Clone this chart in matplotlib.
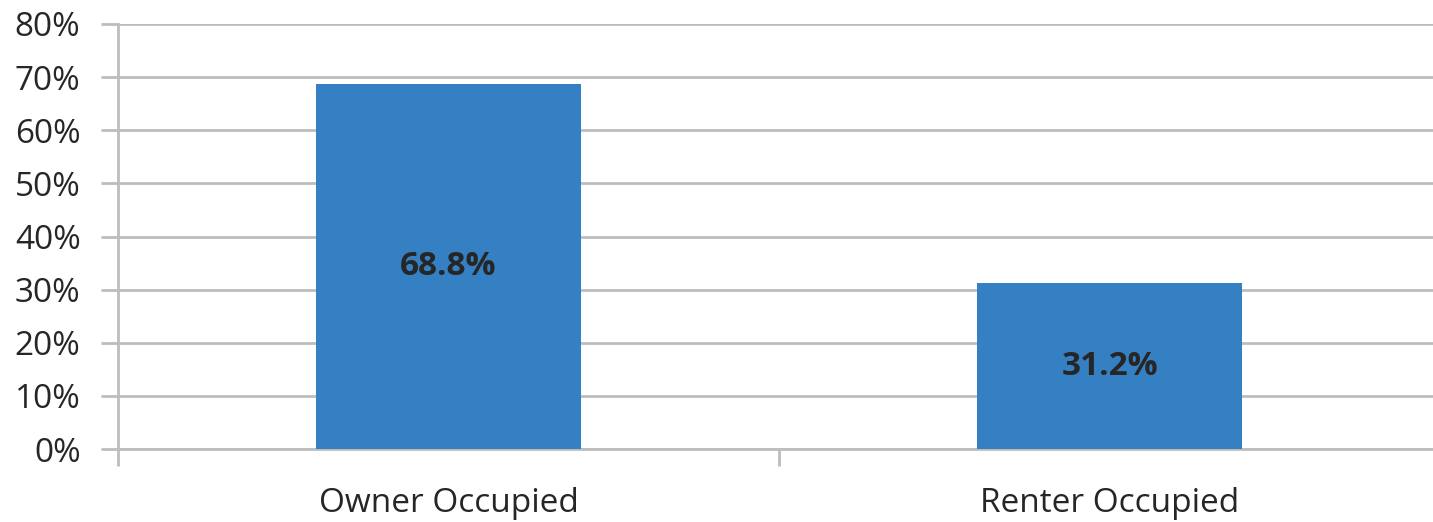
import matplotlib
matplotlib.use("Agg")
import matplotlib.pyplot as plt
from matplotlib.ticker import FuncFormatter, FixedLocator

# Data
categories = ["Owner Occupied", "Renter Occupied"]
shares = [0.688, 0.312]
value_labels = ["68.8%", "31.2%"]

BAR_COLOR = "#3580C3"
GRID_COLOR = "#BDBDBD"
TEXT_COLOR = "#262626"

plt.rcParams["font.family"] = ["Open Sans", "DejaVu Sans"]

fig = plt.figure(figsize=(14.33, 5.22), dpi=100)
ax = fig.add_axes([118 / 1433, 1 - 449 / 522, (1440 - 118) / 1433, (449 - 24) / 522])

x = list(range(len(categories)))
bars = ax.bar(x, shares, width=0.4, color=BAR_COLOR, zorder=3)
ax.bar_label(bars, labels=value_labels, label_type="center",
             fontsize=24, fontweight="bold", color=TEXT_COLOR)

ax.set_xlim(-0.5, len(categories) - 0.5)
ax.set_ylim(0, 0.8)
ax.set_yticks([i / 10 for i in range(9)])
ax.yaxis.set_major_formatter(FuncFormatter(lambda v, _: f"{v * 100:.0f}%"))

# category labels centred, separator ticks between categories
ax.set_xticks(x)
ax.set_xticklabels(categories)
ax.xaxis.set_minor_locator(FixedLocator([-0.5, 0.5, 1.5]))
ax.tick_params(axis="x", which="major", length=0, pad=27, labelsize=24, labelcolor=TEXT_COLOR)
ax.tick_params(axis="x", which="minor", length=12, width=2, color=GRID_COLOR)
ax.tick_params(axis="y", length=12, width=2, color=GRID_COLOR, pad=15,
               labelsize=24, labelcolor=TEXT_COLOR)

ax.grid(axis="y", color=GRID_COLOR, linewidth=2, zorder=0)
for side in ["top", "right"]:
    ax.spines[side].set_visible(False)
ax.spines["left"].set_color(GRID_COLOR)
ax.spines["left"].set_linewidth(2)
ax.spines["bottom"].set_color(GRID_COLOR)
ax.spines["bottom"].set_linewidth(2)

fig.savefig("out.png", dpi=100)
